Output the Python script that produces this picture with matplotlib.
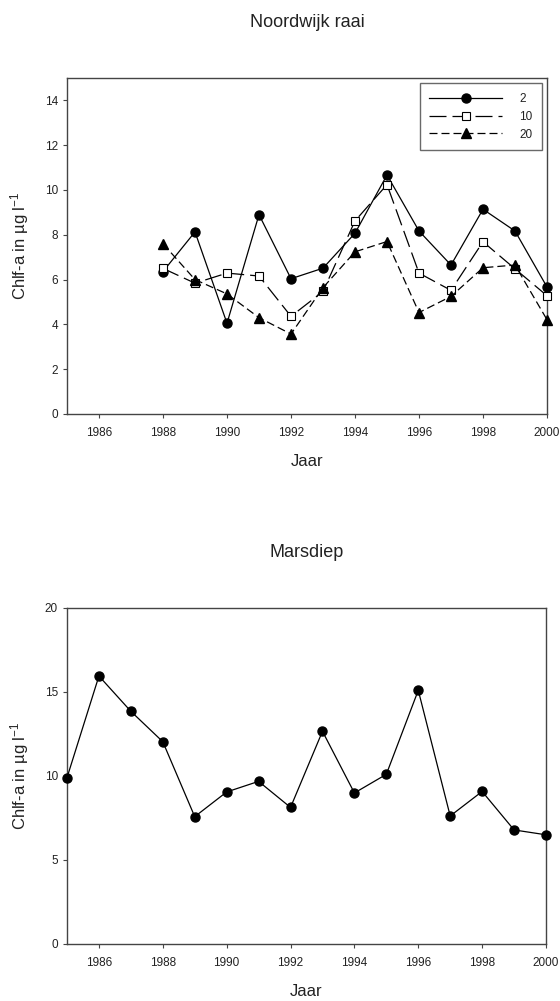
import matplotlib
matplotlib.use("Agg")
import matplotlib.pyplot as plt

plt.rcParams['font.family'] = ['Liberation Sans', 'DejaVu Sans']
plt.rcParams['mathtext.fontset'] = 'custom'
plt.rcParams['mathtext.rm'] = 'Liberation Sans'
plt.rcParams['mathtext.it'] = 'Liberation Sans:italic'
plt.rcParams['mathtext.bf'] = 'Liberation Sans:bold'

years_nw = list(range(1988, 2001))
nw_2 = [6.36, 8.13, 4.05, 8.9, 6.04, 6.51, 8.07, 10.67, 8.17, 6.65, 9.14, 8.17, 5.67]
nw_10 = [6.5, 5.84, 6.29, 6.16, 4.36, 5.47, 8.62, 10.24, 6.29, 5.52, 7.69, 6.48, 5.28]
nw_20 = [7.6, 6.0, 5.36, 4.3, 3.57, 5.64, 7.24, 7.7, 4.53, 5.25, 6.53, 6.65, 4.21]

years_md = list(range(1985, 2001))
md = [9.9, 15.95, 13.85, 12.04, 7.58, 9.05, 9.68, 8.13, 12.66, 8.99, 10.1, 15.1, 7.62, 9.08, 6.79, 6.5]

xticks = [1986, 1988, 1990, 1992, 1994, 1996, 1998, 2000]

fig = plt.figure(figsize=(5.6, 10.01), dpi=100)
W, H = 560, 1001
SPINE = '#444444'
TXT = '#222222'

def style(ax):
    for s in ax.spines.values():
        s.set_linewidth(1.0)
        s.set_color(SPINE)
    ax.tick_params(direction='out', length=3, width=0.8, labelsize=8.5, top=False, right=False,
                   colors=SPINE, labelcolor=TXT)
    ax.tick_params(axis='x', pad=6)
    ax.tick_params(axis='y', pad=3.5)
    ax.set_xticks(xticks)
    ax.set_xticklabels([str(x) for x in xticks])
    ax.set_xlim(1985, 2000)

ax1 = fig.add_axes([67/W, 1 - 414/H, (547-67)/W, (414-78)/H])
ax1.plot(years_nw, nw_2, '-', color='black', lw=0.9, marker='o', ms=6.5, mfc='black', label='2', clip_on=False, zorder=3)
ax1.plot(years_nw, nw_10, color='black', lw=0.9, linestyle=(0, (13.6, 4.8)), marker='s', ms=5.5, mfc='white', mec='black', mew=0.8, label='10', clip_on=False, zorder=3)
ax1.plot(years_nw, nw_20, color='black', lw=0.9, linestyle=(0, (6.4, 3.2)), marker='^', ms=6.5, mfc='black', label='20', clip_on=False, zorder=3)
ax1.set_ylim(0, 15)
ax1.set_yticks(range(0, 15, 2))
style(ax1)
ax1.set_xlabel('Jaar', fontsize=12, labelpad=11.5, color=TXT)
ax1.set_ylabel('Chlf-a in µg l$^{-1}$', fontsize=12, labelpad=10, color=TXT)
ax1.set_title('Noordwijk raai', fontsize=13, pad=37, color=TXT)
leg = ax1.legend(loc='upper right', fontsize=8.5, handlelength=6.15, frameon=True, fancybox=False,
                 edgecolor=SPINE, borderaxespad=0.45, handletextpad=1.45, labelspacing=0.5,
                 borderpad=0.8)
leg.get_frame().set_linewidth(1.0)
for t in leg.get_texts():
    t.set_color(TXT)

ax2 = fig.add_axes([67/W, 1 - 944/H, (546-67)/W, (944-608)/H])
ax2.plot(years_md, md, '-', color='black', lw=0.9, marker='o', ms=6.5, mfc='black', clip_on=False, zorder=3)
ax2.set_ylim(0, 20)
ax2.set_yticks(range(0, 21, 5))
style(ax2)
ax2.set_xlabel('Jaar', fontsize=12, labelpad=11.5, color=TXT)
ax2.set_ylabel('Chlf-a in µg l$^{-1}$', fontsize=12, labelpad=10, color=TXT)
ax2.set_title('Marsdiep', fontsize=13, pad=37, color=TXT)

fig.savefig('out.png', dpi=100)
